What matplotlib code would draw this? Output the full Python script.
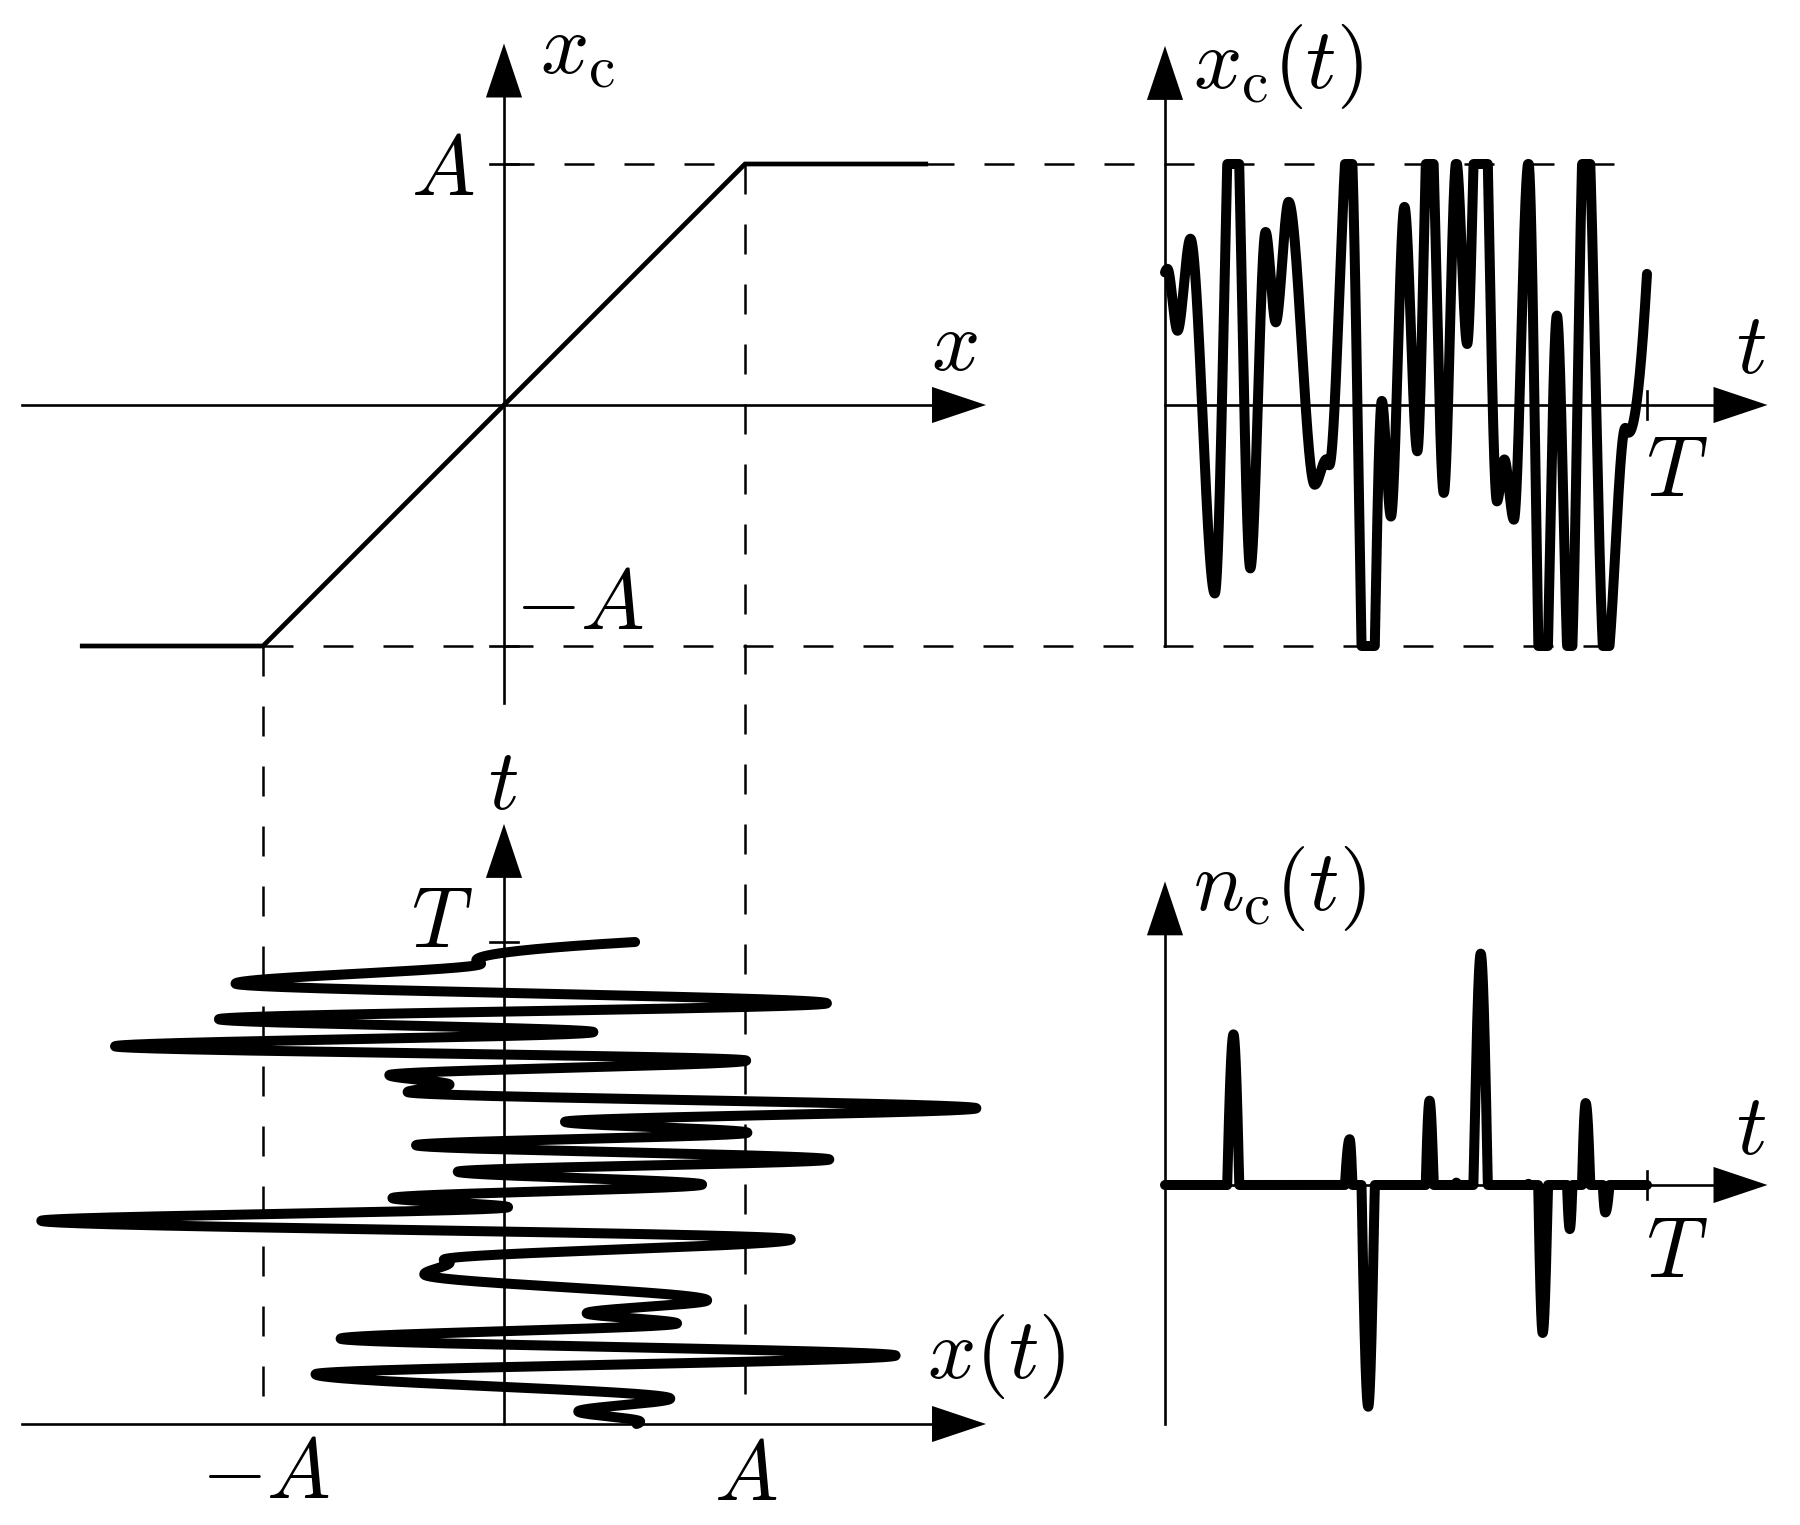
import numpy as np
import matplotlib
matplotlib.use('Agg')
from matplotlib import pyplot as plt
from matplotlib.patches import Polygon

plt.rcParams['mathtext.fontset'] = 'cm'
plt.rcParams['lines.scale_dashes'] = False

# extrema of the input signal x(t) (t in units of T, x in units of A)
t_key = [0.0, 0.005, 0.026, 0.0527, 0.1033, 0.142, 0.177, 0.2087, 0.2298, 0.2565,
         0.3106, 0.335, 0.3408, 0.383, 0.4216, 0.4498, 0.4687, 0.4968, 0.5235, 0.5488,
         0.5784, 0.6044, 0.6269, 0.655, 0.6887, 0.7041, 0.7238, 0.754, 0.7836, 0.8131,
         0.8398, 0.8728, 0.9136, 0.955, 0.962, 1.0]
x_key = [0.55, 0.565, 0.308, 0.69, -0.782, 1.625, -0.678, 0.718, 0.343, 0.843,
         -0.331, -0.225, -0.25, 1.19, -1.92, 0.017, -0.463, 0.822, -0.192, 1.35,
         -0.365, 1.01, 0.253, 1.96, -0.40, -0.226, -0.476, 1.005, -1.614, 0.371,
         -1.183, 1.34, -1.114, -0.095, -0.115, 0.544]

# clipping characteristic
x_in = [-1.75, -1.0, 1.0, 1.75]
A = 1.0


def pchip(xk, yk, xs):
    xk = np.asarray(xk, float)
    yk = np.asarray(yk, float)
    h = np.diff(xk)
    d = np.diff(yk) / h
    m = np.zeros_like(yk)
    for k in range(1, len(xk) - 1):
        if d[k - 1] * d[k] > 0:
            w1 = 2 * h[k] + h[k - 1]
            w2 = h[k] + 2 * h[k - 1]
            m[k] = (w1 + w2) / (w1 / d[k - 1] + w2 / d[k])

    def edge(h0, h1, d0, d1):
        s = ((2 * h0 + h1) * d0 - h0 * d1) / (h0 + h1)
        if np.sign(s) != np.sign(d0):
            s = 0.0
        elif np.sign(d0) != np.sign(d1) and abs(s) > 3 * abs(d0):
            s = 3 * d0
        return s
    m[0] = edge(h[0], h[1], d[0], d[1])
    m[-1] = edge(h[-1], h[-2], d[-1], d[-2])
    i = np.clip(np.searchsorted(xk, xs) - 1, 0, len(h) - 1)
    s = (xs - xk[i]) / h[i]
    h00 = 2 * s**3 - 3 * s**2 + 1
    h10 = s**3 - 2 * s**2 + s
    h01 = -2 * s**3 + 3 * s**2
    h11 = s**3 - s**2
    return h00 * yk[i] + h10 * h[i] * m[i] + h01 * yk[i + 1] + h11 * h[i] * m[i + 1]


tt = np.linspace(0, 1, 6000)
xs = pchip(t_key, x_key, tt)
xc = np.clip(xs, -A, A)
nc = xs - xc

# layout (units of A)
px = 241.0          # pixels per A
ox, oy = 504, 405   # pixel position of the main origin
W, H = 1800, 1525
Tlen = 2.0
tr_x0 = (1165 - ox) / px
bl_y0 = (oy - 1424) / px
br_y0 = (oy - 1185) / px


def P(X, Y):
    return (X - ox) / px, (oy - Y) / px


fig = plt.figure(figsize=(W / 100, H / 100), dpi=100)
ax = fig.add_axes([0, 0, 1, 1])
ax.set_xlim(-ox / px, (W - ox) / px)
ax.set_ylim((oy - H) / px, oy / px)
ax.axis('off')

alw = 1.9
dash = dict(color='k', lw=1.8, dashes=(21.6, 21.6))
sig = dict(color='k', lw=7.2, solid_capstyle='round', solid_joinstyle='round', zorder=4)


def arrow(x, y, dx, dy):
    L, hw = 0.224, 0.075
    bx, by = x - dx * L, y - dy * L
    pts = [(x, y), (bx - dy * hw, by + dx * hw), (bx + dy * hw, by - dx * hw)]
    ax.add_patch(Polygon(pts, closed=True, color='k', lw=0, zorder=5))


def hline(x0, x1, y, **kw):
    ax.plot([x0, x1], [y, y], **kw)


def vline(x, y0, y1, **kw):
    ax.plot([x, x], [y0, y1], **kw)


tk = 0.058
# top-left: clipping characteristic
hline(-2.0, 2.0 - 0.1, 0, color='k', lw=alw)
arrow(2.0, 0, 1, 0)
vline(0, -1.237, 1.5 - 0.1, color='k', lw=alw)
arrow(0, 1.5, 0, 1)
hline(-tk, tk, A, color='k', lw=alw)
hline(-tk, tk, -A, color='k', lw=alw)
hline(0, tr_x0 + 0.94 * Tlen, A, **dash)
hline(-A, tr_x0 + 0.94 * Tlen, -A, **dash)
vline(A, A, bl_y0, **dash)
vline(-A, -A, bl_y0, **dash)
ax.plot(x_in, np.clip(x_in, -A, A), color='k', lw=3.4, solid_joinstyle='miter', zorder=4)

# top-right: clipped signal
vline(tr_x0, -A, 1.49 - 0.1, color='k', lw=alw)
arrow(tr_x0, 1.49, 0, 1)
hline(tr_x0, tr_x0 + 2.5 - 0.1, 0, color='k', lw=alw)
arrow(tr_x0 + 2.5, 0, 1, 0)
vline(tr_x0 + Tlen, -tk, tk, color='k', lw=alw)
ax.plot(tr_x0 + Tlen * tt, xc, **sig)

# bottom-left: input signal, time upwards
hline(-2.0, 2.0 - 0.1, bl_y0, color='k', lw=alw)
arrow(2.0, bl_y0, 1, 0)
vline(0, bl_y0, bl_y0 + 2.49 - 0.1, color='k', lw=alw)
arrow(0, bl_y0 + 2.49, 0, 1)
hline(-tk, tk, bl_y0 + Tlen, color='k', lw=alw)
ax.plot(xs, bl_y0 + Tlen * tt, **sig)

# bottom-right: clipping noise
vline(tr_x0, bl_y0, br_y0 + 1.26 - 0.1, color='k', lw=alw)
arrow(tr_x0, br_y0 + 1.26, 0, 1)
hline(tr_x0, tr_x0 + 2.5 - 0.1, br_y0, color='k', lw=alw)
arrow(tr_x0 + 2.5, br_y0, 1, 0)
vline(tr_x0 + Tlen, br_y0 - tk, br_y0 + tk, color='k', lw=alw)
ax.plot(tr_x0 + Tlen * tt, br_y0 + nc, **sig)

fs = 61
lab = [
    (540, 73, r'$x_{\mathrm{c}}$', 'left'),
    (474, 195, r'$A$', 'right'),
    (515, 629, r'$-A$', 'left'),
    (954, 370, r'$x$', 'center'),
    (1193, 88, r'$x_{\mathrm{c}}(t)$', 'left'),
    (1751, 373, r'$t$', 'center'),
    (1677, 496, r'$T$', 'center'),
    (503, 809, r'$t$', 'center'),
    (473, 947, r'$T$', 'right'),
    (927, 1378, r'$x(t)$', 'left'),
    (266, 1498, r'$-A$', 'center'),
    (746, 1500, r'$A$', 'center'),
    (1193, 910, r'$n_{\mathrm{c}}(t)$', 'left'),
    (1751, 1154, r'$t$', 'center'),
    (1677, 1277, r'$T$', 'center'),
]
for X, Y, s, ha in lab:
    x, y = P(X, Y)
    ax.text(x, y, s, fontsize=fs, ha=ha, va='baseline')

fig.savefig('out.png', dpi=100)
